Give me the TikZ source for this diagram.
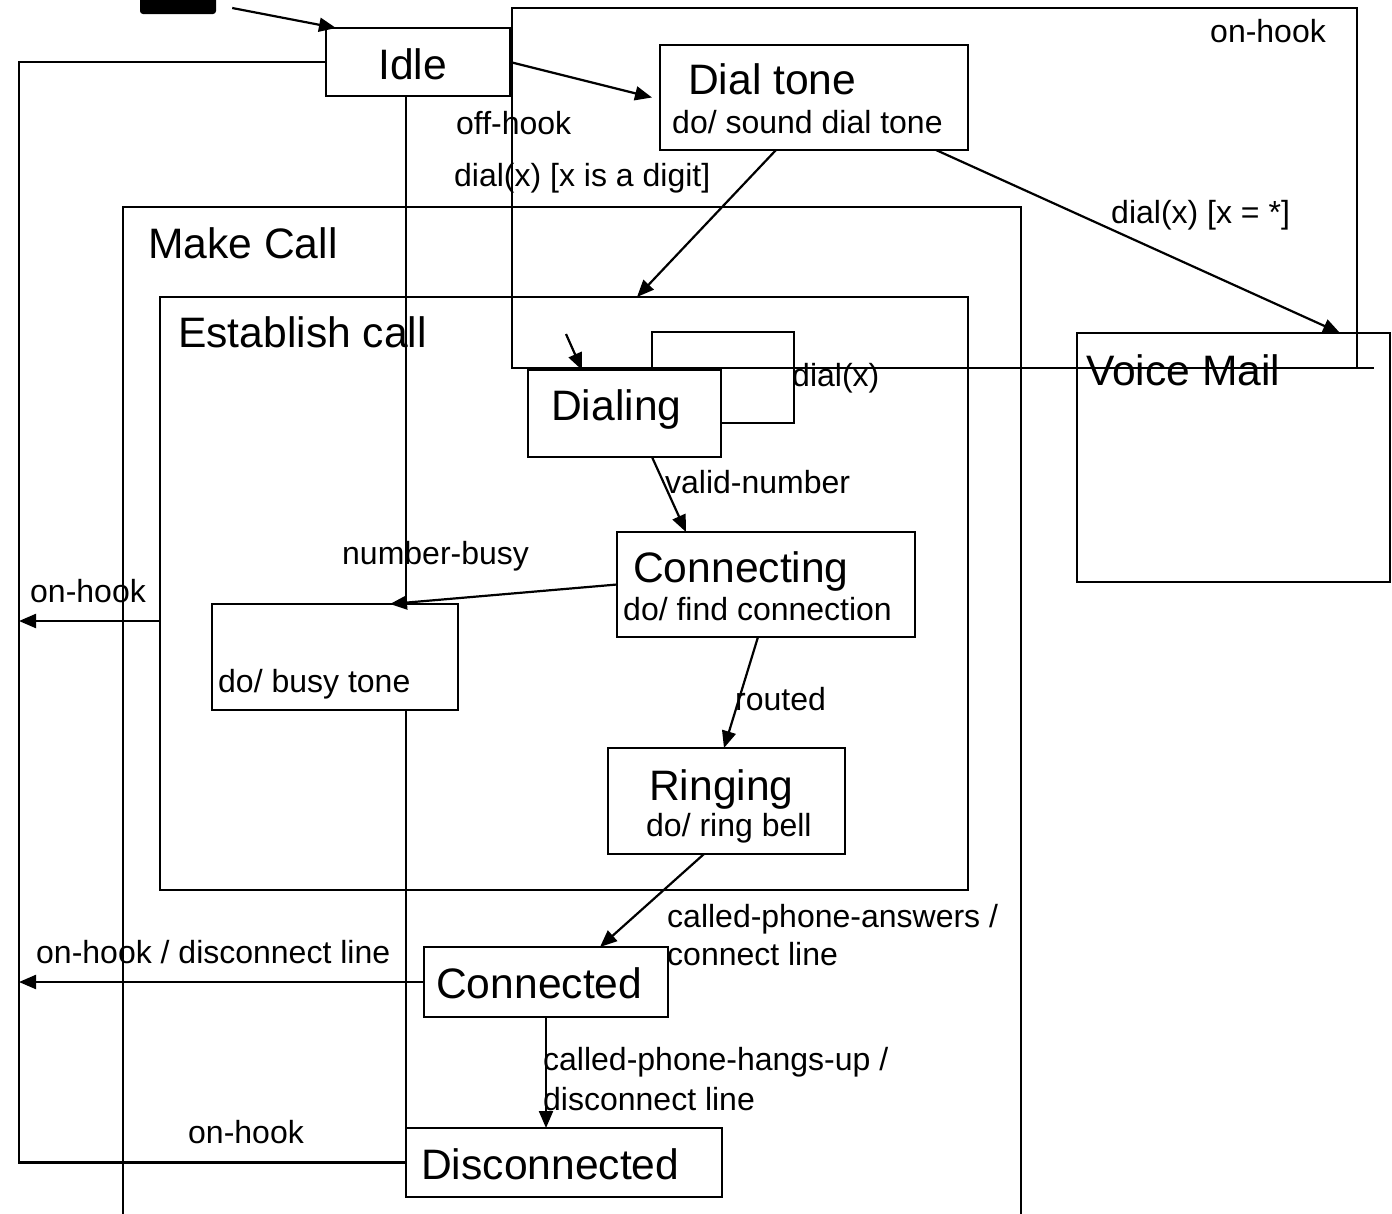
\documentclass[tikz,border=0pt]{standalone}
\usepackage{fontspec}
\setmainfont{Liberation Sans}
\usetikzlibrary{arrows.meta}

\tikzset{
  statebox/.style={draw, line width=2.2pt, inner sep=0pt, outer sep=0pt, anchor=center},
  conn/.style={line width=2.2pt},
  arr/.style={conn, -{Triangle[length=17pt,width=14pt]}},
  bigtxt/.style={inner sep=0pt, anchor=base west, font=\fontsize{42.6}{48}\selectfont},
  smalltxt/.style={inner sep=0pt, anchor=base west, yshift=-1.5pt, font=\fontsize{32}{38}\selectfont},
}

\begin{document}
\begin{tikzpicture}[x=1pt, y=-1pt]
  \useasboundingbox (0,0) rectangle (1392,1213);
  \fill[white] (0,0) rectangle (1392,1213);

  % initial pseudo-state
  \node[fill=black, rounded corners=3pt, minimum width=76pt, minimum height=24pt, inner sep=0pt] (init) at (178,2) {};

  % state boxes
  \node[statebox, minimum width=184pt, minimum height=68pt] (idle) at (418,62) {};
  \node[statebox, minimum width=845pt, minimum height=360pt] (offhook) at (934.5,188) {};
  \node[statebox, minimum width=308pt, minimum height=105pt] (dial) at (814,97.5) {};
  \node[statebox, minimum width=898pt, minimum height=1040pt] (makecall) at (572,727) {};
  \node[statebox, minimum width=808pt, minimum height=593pt] (est) at (564,593.5) {};
  \node[statebox, minimum width=193pt, minimum height=87pt] (dialing) at (624.5,413.5) {};
  \node[statebox, minimum width=298pt, minimum height=105pt] (connecting) at (766,584.5) {};
  \node[statebox, minimum width=246pt, minimum height=106pt] (busy) at (335,657) {};
  \node[statebox, minimum width=237pt, minimum height=106pt] (ringing) at (726.5,801) {};
  \node[statebox, minimum width=244pt, minimum height=70pt] (connected) at (546,982) {};
  \node[statebox, minimum width=316pt, minimum height=69pt] (disc) at (564,1162.5) {};
  \node[statebox, minimum width=313pt, minimum height=249pt] (voice) at (1233.5,457.5) {};

  % helper points
  \coordinate (rail) at (19,0);
  \coordinate (dinit) at (566,334);
  \coordinate (loopne) at (794,332);

  % transitions
  \draw[arr] ([xshift=16pt,yshift=-6pt]init.east) -- ([xshift=10pt]idle.north west);
  \draw[arr] (idle.east) -- ([xshift=-8pt]dial.west);
  \draw[arr] ([xshift=-38pt]dial.south) -- ([xshift=73pt]est.north);
  \draw[arr] ([xshift=122pt]dial.south) -- ([xshift=106.5pt]voice.north);
  \draw[arr] (dinit) -- ([xshift=-42.5pt]dialing.north);
  \draw[conn] ([xshift=27.5pt]dialing.north) |- (loopne) |- ([yshift=-9.5pt]dialing.east);
  \draw[arr] ([xshift=27.5pt]dialing.south) -- ([xshift=-80pt]connecting.north);
  \draw[arr] (connecting.west) -- ([xshift=55pt]busy.north);
  \draw[arr] ([xshift=-8pt]connecting.south) -- ([xshift=-2.5pt]ringing.north);
  \draw[arr] ([xshift=-22.5pt]ringing.south) -- ([xshift=54pt]connected.north);
  \draw[arr] (connected.south) -- (connected.south |- disc.north);
  \draw[arr] ([yshift=-27.5pt]est.west) -- ([yshift=-27.5pt]est.west -| rail);
  \draw[arr] (connected.west) -- (connected.west -| rail);
  \draw[conn] (disc.west) -- (disc.west -| rail) |- (idle.west);
  \draw[conn] ([xshift=-12pt]idle.south) -- ([xshift=-12pt]idle.south |- busy.north);
  \draw[conn] ([xshift=-12pt]idle.south |- busy.south) -- (disc.north west);
  \draw[line width=1.3pt] (offhook.south east) -- ++(17,0);

  % texts
  \node[bigtxt] (tidle) at (378,79) {Idle};
  \node[smalltxt] (tonhook1) at (1210,41) {on-hook};
  \node[bigtxt] (tdial) at (688,94) {Dial tone};
  \node[smalltxt] (tdialdo) at (672,132) {do/ sound dial tone};
  \node[smalltxt] (toffhook) at (456,133) {off-hook};
  \node[smalltxt] (tdigit) at (454,185) {dial(x) [x is a digit]};
  \node[smalltxt] (tstar) at (1111,222) {dial(x) [x = *]};
  \node[bigtxt] (tmake) at (148,258) {Make Call};
  \node[bigtxt] (test) at (178,347) {Establish call};
  \node[bigtxt] (tdialing) at (551,420) {Dialing};
  \node[smalltxt] (tloop) at (792,385) {dial(x)};
  \node[bigtxt] (tvoice) at (1086,385) {Voice Mail};
  \node[smalltxt] (tvalid) at (665,492) {valid-number};
  \node[smalltxt] (tbusyev) at (342,563) {number-busy};
  \node[bigtxt] (tconn) at (633,582) {Connecting};
  \node[smalltxt] (tconndo) at (623,619) {do/ find connection};
  \node[smalltxt] (tonhook2) at (30,601) {on-hook};
  \node[smalltxt] (tbusydo) at (218,691) {do/ busy tone};
  \node[smalltxt] (trouted) at (735,709) {routed};
  \node[bigtxt] (tring) at (649,800) {Ringing};
  \node[smalltxt] (tringdo) at (646,835) {do/ ring bell};
  \node[smalltxt] (tans1) at (667,926) {called-phone-answers /};
  \node[smalltxt] (tans2) at (667,964) {connect line};
  \node[smalltxt] (tonhook3) at (36,962) {on-hook / disconnect line};
  \node[bigtxt] (tconnected) at (436,998) {Connected};
  \node[smalltxt] (thang1) at (543,1069) {called-phone-hangs-up /};
  \node[smalltxt] (thang2) at (543,1109) {disconnect line};
  \node[smalltxt] (tonhook4) at (188,1142) {on-hook};
  \node[bigtxt] (tdisc) at (421,1179) {Disconnected};
\end{tikzpicture}
\end{document}
